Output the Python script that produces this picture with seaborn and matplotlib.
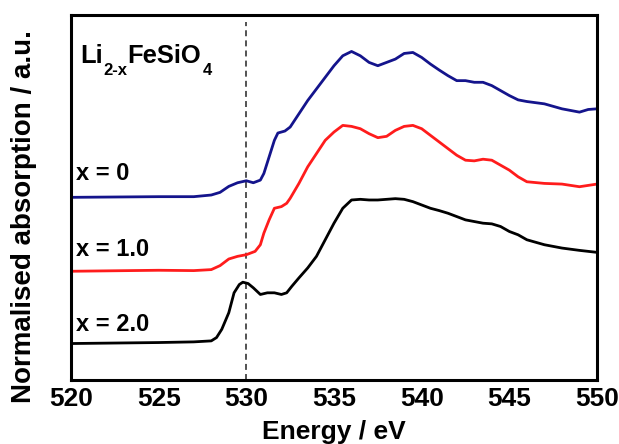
import numpy as np
import pandas as pd
import matplotlib
matplotlib.use("Agg")
import matplotlib.pyplot as plt
import seaborn as sns

# ---- data ----
energy_x0 = [520, 525, 527, 528, 528.5, 529, 529.5, 530, 530.4, 530.8, 531, 531.3, 531.6, 531.8,
             532.2, 532.5, 533, 533.5, 534, 534.5, 535, 535.5, 536, 536.5, 537, 537.5, 538, 538.5,
             539, 539.5, 540, 540.5, 541, 541.5, 542, 542.5, 543, 543.5, 544, 544.5, 545, 545.5,
             546, 547, 548, 549, 549.5, 550]
absorb_x0 = [5.51, 5.53, 5.53, 5.58, 5.66, 5.84, 5.95, 6.01, 5.95, 6.03, 6.23, 6.73, 7.23, 7.45,
             7.51, 7.63, 8.03, 8.43, 8.78, 9.13, 9.48, 9.78, 9.91, 9.78, 9.58, 9.48, 9.58, 9.68,
             9.85, 9.88, 9.73, 9.53, 9.35, 9.18, 9.03, 9.03, 8.98, 8.98, 8.88, 8.73, 8.58, 8.45,
             8.40, 8.33, 8.18, 8.08, 8.16, 8.18]

energy_x1 = [520, 525, 527, 528, 528.5, 529, 529.5, 530, 530.5, 530.8, 531, 531.3, 531.6, 532,
             532.3, 532.5, 533, 533.5, 534, 534.5, 535, 535.5, 536, 536.5, 537, 537.5, 538, 538.5,
             539, 539.5, 540, 540.5, 541, 541.5, 542, 542.5, 543, 543.5, 544, 544.5, 545, 545.5,
             546, 547, 548, 549, 550]
absorb_x1 = [3.28, 3.31, 3.30, 3.33, 3.45, 3.65, 3.73, 3.78, 3.88, 4.08, 4.43, 4.83, 5.18, 5.23,
             5.33, 5.48, 5.93, 6.43, 6.83, 7.23, 7.48, 7.68, 7.65, 7.58, 7.43, 7.31, 7.35, 7.53,
             7.65, 7.68, 7.58, 7.38, 7.18, 6.98, 6.78, 6.63, 6.61, 6.66, 6.63, 6.48, 6.33, 6.13,
             5.98, 5.93, 5.91, 5.83, 5.91]

energy_x2 = [520, 525, 527, 528, 528.3, 528.6, 529, 529.3, 529.6, 529.8, 530.1, 530.4, 530.8, 531.2,
             531.6, 532, 532.3, 532.6, 533, 533.5, 534, 534.5, 535, 535.5, 536, 536.5, 537, 537.5,
             538, 538.5, 539, 539.5, 540, 540.5, 541, 541.5, 542, 542.5, 543, 543.5, 544, 544.5,
             545, 545.5, 546, 547, 548, 549, 550]
absorb_x2 = [1.10, 1.13, 1.15, 1.18, 1.28, 1.53, 2.03, 2.63, 2.88, 2.95, 2.91, 2.78, 2.58, 2.63,
             2.63, 2.58, 2.63, 2.83, 3.08, 3.38, 3.73, 4.23, 4.73, 5.18, 5.43, 5.45, 5.43, 5.43,
             5.45, 5.47, 5.45, 5.38, 5.28, 5.18, 5.11, 5.03, 4.93, 4.83, 4.78, 4.73, 4.71, 4.63,
             4.48, 4.38, 4.23, 4.08, 3.98, 3.91, 3.85]

series_labels = ["x = 0", "x = 1.0", "x = 2.0"]
label_y = [6.23, 3.93, 1.68]
x_ticks = [520, 525, 530, 535, 540, 545, 550]
ref_energy = 530

df = pd.concat([
    pd.DataFrame({"Energy": energy_x0, "Absorption": absorb_x0, "sample": series_labels[0]}),
    pd.DataFrame({"Energy": energy_x1, "Absorption": absorb_x1, "sample": series_labels[1]}),
    pd.DataFrame({"Energy": energy_x2, "Absorption": absorb_x2, "sample": series_labels[2]}),
], ignore_index=True)

sns.set_style("white")
plt.rcParams["font.family"] = ["Liberation Sans", "DejaVu Sans"]
plt.rcParams["font.weight"] = "bold"
plt.rcParams["text.color"] = "black"
plt.rcParams["axes.labelcolor"] = "black"
plt.rcParams["xtick.color"] = "black"
plt.rcParams["ytick.color"] = "black"

W, H = 619, 444
fig = plt.figure(figsize=(W / 100, H / 100), dpi=100)
ax = fig.add_axes([71 / W, 1 - 380 / H, (597 - 71) / W, (380 - 15) / H])

palette = {series_labels[0]: "#14148c", series_labels[1]: "#ff1c1c", series_labels[2]: "#000000"}
sns.lineplot(data=df, x="Energy", y="Absorption", hue="sample", palette=palette,
             estimator=None, sort=False, lw=2.0, legend=False, ax=ax)

ax.axvline(ref_energy, ymin=0, ymax=0.98, color="#444444", lw=1.3, ls=(0, (3.3, 2.3)), zorder=1)

ax.set_xlim(520, 550)
ax.set_ylim(0, 11.01)
ax.set_xticks(x_ticks)
ax.set_xticklabels([str(t) for t in x_ticks])
ax.set_yticks([])
ax.tick_params(axis="x", direction="in", length=5, width=1.8, labelsize=19, pad=5,
               colors="black")
for lbl in ax.get_xticklabels():
    lbl.set_fontweight("bold")
for sp in ax.spines.values():
    sp.set_visible(True)
    sp.set_linewidth(2.2)
    sp.set_color("black")

ax.set_xlabel("Energy / eV", fontsize=19, fontweight="bold", color="black")
ax.xaxis.label.set_va("baseline")
ax.xaxis.set_label_coords(0.5, (380 - 439) / 365)
ax.set_ylabel("Normalised absorption / a.u.", fontsize=20, fontweight="bold", color="black")
ax.yaxis.label.set_va("center")
ax.yaxis.label.set_ha("center")
ax.yaxis.set_label_coords((24 - 71) / 526, (380 - 216.5) / 365)

for lab, yv in zip(series_labels, label_y):
    ax.text(520.3, yv, lab, fontsize=17, fontweight="bold", va="center", ha="left", color="black")

# formula label built from pieces (main text + subscripts)
fig.canvas.draw()
renderer = fig.canvas.get_renderer()
main_base = 1 - 63.3 / H
sub_base = 1 - 75 / H
t = fig.text(80 / W, main_base, "Li", fontsize=18.4, fontweight="bold", va="baseline", ha="left")
x1 = t.get_window_extent(renderer).x1
t = fig.text((x1 + 1) / W, sub_base, "2-x", fontsize=12, fontweight="bold", va="baseline", ha="left")
x1 = t.get_window_extent(renderer).x1
t = fig.text(x1 / W, main_base, "FeSiO", fontsize=18.4, fontweight="bold", va="baseline", ha="left")
x1 = t.get_window_extent(renderer).x1
fig.text((x1 + 1) / W, sub_base, "4", fontsize=12, fontweight="bold", va="baseline", ha="left")

fig.savefig("out.png", dpi=100)
